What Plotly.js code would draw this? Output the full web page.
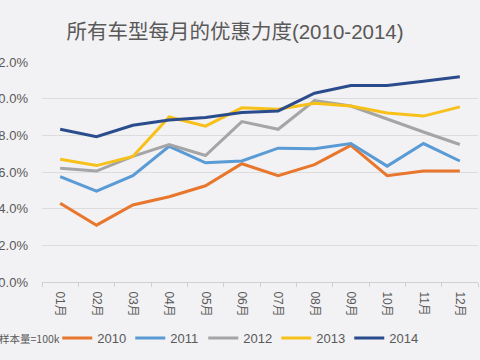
<!DOCTYPE html>
<html>
<head>
<meta charset="utf-8">
<script src="https://cdn.plot.ly/plotly-3.0.1.min.js"></script>
<style>
html,body{margin:0;padding:0;width:480px;height:360px;overflow:hidden;background:#f2f1f3;}
#wrap{position:absolute;left:-10px;top:0;width:490px;height:360px;}
</style>
</head>
<body>
<div id="wrap"></div>
<script>
const months = ["01月","02月","03月","04月","05月","06月","07月","08月","09月","10月","11月","12月"];
const y2010 = [4.3, 3.1, 4.2, 4.65, 5.25, 6.45, 5.8, 6.4, 7.45, 5.8, 6.05, 6.05];
const y2011 = [5.75, 4.95, 5.8, 7.4, 6.5, 6.6, 7.3, 7.27, 7.55, 6.32, 7.55, 6.6];
const y2012 = [6.2, 6.05, 6.85, 7.5, 6.9, 8.75, 8.33, 9.9, 9.6, 8.88, 8.18, 7.5];
const y2013 = [6.7, 6.35, 6.85, 9.0, 8.5, 9.5, 9.42, 9.75, 9.6, 9.22, 9.05, 9.55];
const y2014 = [8.33, 7.93, 8.55, 8.84, 8.97, 9.24, 9.33, 10.3, 10.72, 10.72, 10.95, 11.2];
const seriesNames = ["2010","2011","2012","2013","2014"];
const colors = ["#E8772E","#5A9BD5","#A5A5A5","#F7C11A","#2B4C8C"];
const allY = [y2010, y2011, y2012, y2013, y2014];

const traces = allY.map((ys, i) => ({
  x: months, y: ys, type: 'scatter', mode: 'lines', name: seriesNames[i],
  line: {color: colors[i], width: 3}
}));

const layout = {
  width: 490, height: 360,
  paper_bgcolor: '#f2f1f3', plot_bgcolor: '#f2f1f3',
  margin: {l: 52, r: 2, t: 62, b: 78},
  font: {family: 'Liberation Sans, Arial, sans-serif', color: '#595959'},
  title: {text: '所有车型每月的优惠力度(2010-2014)', x: 0.5, xanchor: 'center', xref: 'container',
          y: 0.912, yanchor: 'middle', yref: 'container',
          font: {family: 'Liberation Sans, Noto Sans CJK SC, sans-serif', size: 20.5, color: '#595959'}},
  xaxis: {type: 'category', range: [-0.5, 11.5], tickangle: 90,
          tickfont: {size: 12, color: '#595959', family: 'Liberation Sans, Noto Sans CJK SC, sans-serif'},
          showline: true, linecolor: '#d0d0d0', linewidth: 1, ticks: 'outside', ticklen: 4, tickcolor: '#d0d0d0',
          tickson: 'boundaries', showgrid: false, fixedrange: true, ticklabelstandoff: 6},
  yaxis: {range: [0, 12], dtick: 2, tickformat: '.1f', ticksuffix: '%', showgrid: true, gridcolor: '#dcdcdc',
          gridwidth: 1, zeroline: false, showline: false, tickfont: {size: 13, color: '#595959'},
          ticklabelstandoff: 13, fixedrange: true, automargin: false},
  legend: {orientation: 'h', x: 0.035, xanchor: 'left', y: -0.255, yanchor: 'middle',
           font: {size: 13, color: '#595959'}, itemwidth: 30, entrywidth: 28, entrywidthmode: 'pixels',
           tracegroupgap: 0, bgcolor: 'rgba(0,0,0,0)'},
  showlegend: true,
  annotations: [{text: '样本量=100k', xref: 'paper', yref: 'paper', x: -0.104, xanchor: 'left', y: -0.255, yanchor: 'middle',
                 showarrow: false, font: {size: 10.5, color: '#595959', family: 'Noto Sans CJK SC, sans-serif'}}]
};
Plotly.newPlot('wrap', traces, layout, {displayModeBar: false, staticPlot: true});
</script>
</body>
</html>
